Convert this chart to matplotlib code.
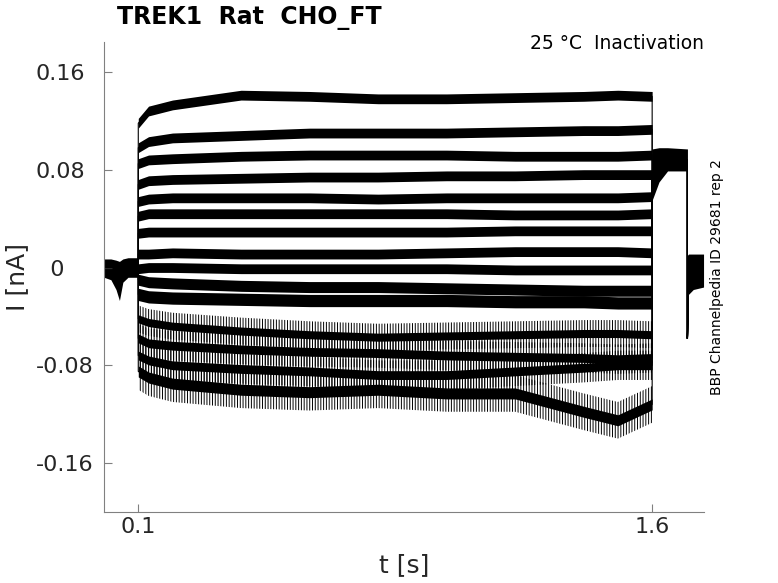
import matplotlib
matplotlib.use("Agg")
import matplotlib.pyplot as plt
import numpy as np

# holding period (all sweeps overlap near 0)
hold_t = [0.0, 0.02, 0.035, 0.045, 0.055, 0.07, 0.1]
hold_lo = [-0.008, -0.010, -0.018, -0.027, -0.012, -0.008, -0.008]
hold_hi = [0.007, 0.007, 0.006, 0.005, 0.007, 0.008, 0.008]

# conditioning step, levels read per sweep (nA)
step_t = [0.1, 0.13, 0.2, 0.4, 0.6, 0.8, 1.0, 1.2, 1.4, 1.5, 1.6]
step_levels = [
    [0.118, 0.128, 0.133, 0.141, 0.140, 0.138, 0.138, 0.139, 0.140, 0.141, 0.140],
    [0.098, 0.103, 0.106, 0.108, 0.110, 0.110, 0.110, 0.111, 0.112, 0.112, 0.113],
    [0.085, 0.088, 0.089, 0.091, 0.092, 0.092, 0.092, 0.091, 0.091, 0.091, 0.092],
    [0.068, 0.071, 0.072, 0.073, 0.074, 0.074, 0.075, 0.075, 0.076, 0.076, 0.076],
    [0.054, 0.056, 0.057, 0.057, 0.057, 0.056, 0.057, 0.057, 0.057, 0.057, 0.058],
    [0.042, 0.044, 0.044, 0.044, 0.044, 0.044, 0.044, 0.043, 0.043, 0.043, 0.044],
    [0.028, 0.029, 0.029, 0.029, 0.029, 0.029, 0.029, 0.030, 0.030, 0.030, 0.030],
    [0.011, 0.011, 0.012, 0.011, 0.011, 0.011, 0.012, 0.013, 0.013, 0.013, 0.012],
    [-0.001, 0.000, 0.000, -0.001, -0.001, -0.001, -0.001, -0.002, -0.002, -0.002, -0.002],
    [-0.010, -0.012, -0.013, -0.015, -0.016, -0.016, -0.017, -0.018, -0.019, -0.019, -0.019],
    [-0.022, -0.024, -0.025, -0.026, -0.027, -0.027, -0.027, -0.028, -0.028, -0.029, -0.029],
    [-0.042, -0.045, -0.048, -0.052, -0.055, -0.057, -0.056, -0.055, -0.054, -0.054, -0.055],
    [-0.058, -0.062, -0.064, -0.067, -0.069, -0.070, -0.072, -0.073, -0.074, -0.075, -0.074],
    [-0.072, -0.076, -0.080, -0.083, -0.085, -0.088, -0.088, -0.085, -0.082, -0.080, -0.080],
    [-0.085, -0.090, -0.095, -0.100, -0.102, -0.100, -0.103, -0.103, -0.118, -0.125, -0.112],
]
# noise half-width of each sweep (nA)
step_spread = [0.004, 0.004, 0.004, 0.004, 0.004, 0.004, 0.004, 0.004,
               0.004, 0.0045, 0.005, 0.011, 0.012, 0.012, 0.015]

# test pulse and tail (all sweeps overlap)
test_t = [1.6, 1.62, 1.645, 1.703]
test_lo = [0.055, 0.070, 0.079, 0.079]
test_hi = [0.097, 0.098, 0.098, 0.097]
spike_val = -0.058
tail_t = [1.703, 1.706, 1.72, 1.75]
tail_lo = [-0.030, -0.022, -0.018, -0.016]
tail_hi = [0.010, 0.011, 0.011, 0.011]

yticks = [0.16, 0.08, 0, -0.08, -0.16]
ytick_labels = ['0.16', '0.08', '  0', '-0.08', '-0.16']

plt.rcParams['hatch.linewidth'] = 0.7
fig = plt.figure(figsize=(7.78, 5.83), dpi=100)
ax = fig.add_axes([0.1337, 0.1218, 0.7706, 0.8062])

ax.fill_between(hold_t, hold_lo, hold_hi, color='k', lw=0)
ax.fill_between(test_t, test_lo, test_hi, color='k', lw=0)
ax.fill_between(tail_t, tail_lo, tail_hi, color='k', lw=0)

test_mid = (np.array(test_lo) + np.array(test_hi)) / 2
tail_mid = (np.array(tail_lo) + np.array(tail_hi)) / 2
for lev, sp in zip(step_levels, step_spread):
    lev = np.array(lev)
    if sp < 0.008:
        ax.fill_between(step_t, lev - sp, lev + sp, color='k', lw=0)
    else:
        # noisier sweeps: open texture
        ax.fill_between(step_t, lev - sp, lev + sp, facecolor='none',
                        edgecolor='k', hatch='||||||', lw=0)
        ax.fill_between(step_t, lev - sp * 0.3, lev + sp * 0.3, color='k', lw=0)
    tt = np.concatenate([[0.0, 0.1], step_t, test_t, [1.703], tail_t[1:]])
    yy = np.concatenate([[0.0, 0.0], lev, test_mid, [spike_val], tail_mid[1:]])
    ax.plot(tt, yy, color='k', lw=0.8)

ax.set_xlim(0, 1.75)
ax.set_ylim(-0.2, 0.1845)
ax.set_xticks([0.1, 1.6])
ax.set_xticklabels(['0.1', '1.6'])
ax.set_yticks(yticks)
ax.set_yticklabels(ytick_labels)
for lbl in ax.get_yticklabels():
    lbl.set_horizontalalignment('left')
for s in ['top', 'right']:
    ax.spines[s].set_visible(False)
for s in ['left', 'bottom']:
    ax.spines[s].set_color('#808080')
ax.tick_params(direction='in', length=6, color='#808080', labelsize=16,
               labelcolor='#262626')
ax.tick_params(axis='y', pad=49)
ax.set_xlabel('t [s]', fontsize=18, color='#262626')
ax.set_ylabel('I [nA]', fontsize=18, color='#262626')
ax.xaxis.set_label_coords(0.5, -0.087)
ax.yaxis.set_label_coords(-0.125, 0.5)

fig.text(0.150, 0.969, 'TREK1  Rat  CHO_FT', fontsize=17, fontweight='bold',
         ha='left', va='center')
ax.text(1.0, 1.017, '25 °C  Inactivation', transform=ax.transAxes,
        fontsize=13.5, ha='right', va='top')
fig.text(0.921, 0.524, 'BBP Channelpedia ID 29681 rep 2', rotation=90,
         fontsize=10, ha='center', va='center')

fig.savefig('out.png', dpi=100)
